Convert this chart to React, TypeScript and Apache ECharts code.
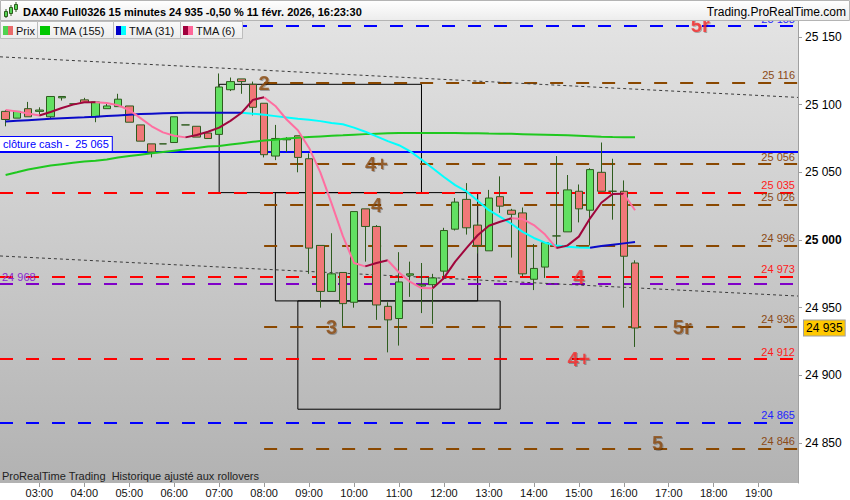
import React, { useEffect, useRef } from "react";
import * as echarts from "echarts";

const FONT = "'Liberation Sans', Arial, Helvetica, sans-serif";

// ---------- data ----------
const TIMES = [
  "02:15", "02:30", "02:45", "03:00", "03:15", "03:30", "03:45", "04:00", "04:15", "04:30",
  "04:45", "05:00", "05:15", "05:30", "05:45", "06:00", "06:15", "06:30", "06:45", "07:00",
  "07:15", "07:30", "07:45", "08:00", "08:15", "08:30", "08:45", "09:00", "09:15", "09:30",
  "09:45", "10:00", "10:15", "10:30", "10:45", "11:00", "11:15", "11:30", "11:45", "12:00",
  "12:15", "12:30", "12:45", "13:00", "13:15", "13:30", "13:45", "14:00", "14:15", "14:30",
  "14:45", "15:00", "15:15", "15:30", "15:45", "16:00", "16:15",
];
const OPEN = [
  25095, 25090, 25097, 25095, 25091, 25105, 25100.5, 25103.5, 25091, 25097,
  25098.5, 25099, 25085, 25071, 25071, 25072, 25085, 25084, 25079, 25078,
  25111, 25119, 25115, 25101, 25062, 25074, 25077, 25060, 24996, 24962,
  24976, 24954, 25023, 25010, 24951, 24942, 24974, 24966, 24967, 24977,
  25008, 25030, 25011, 24992, 25032, 25022, 25020, 24971, 24980, 25003,
  25006, 25036, 25022, 25050, 25036, 25036, 24983,
];
const CLOSE = [
  25089, 25095, 25091, 25096, 25106, 25106, 25100.5, 25101.5, 25102, 25099,
  25104, 25087, 25073, 25065, 25071, 25091, 25085, 25076, 25075, 25113,
  25117, 25117, 25098, 25063, 25075, 25075, 25061, 24994, 24962, 24975,
  24953, 25021, 25010, 24952, 24941, 24969, 24975, 24967, 24972, 25007,
  25028, 25009, 24996, 25031, 25025, 25019, 24975, 24979, 24998, 25003,
  25037, 25023, 25052, 25036, 25036, 24988, 24935,
];
const LOW = [
  25084, 25090, 25091, 25093, 25090, 25103, 25100.5, 25101.5, 25087, 25097,
  25098.5, 25087, 25073, 25061, 25071, 25072, 25085, 25076, 25075, 25078,
  25110, 25108, 25092, 25061, 25059, 25065, 25050, 24975, 24950, 24962,
  24936, 24950, 24984, 24941, 24917, 24922, 24958, 24946, 24938, 24971,
  25007, 25004, 24990, 24992, 25020, 24987, 24973, 24963, 24972, 24995,
  25006, 25013, 24996, 25036, 25015, 24950, 24921,
];
const HIGH = [
  25096, 25095, 25102, 25098, 25106, 25106, 25100.5, 25105, 25102, 25101,
  25108, 25099, 25085, 25071, 25071, 25091, 25085, 25084, 25079, 25123,
  25120, 25119, 25117, 25101, 25085, 25076, 25077, 25064, 24996, 25005,
  24976, 25021, 25023, 25011, 24954, 24991, 24984, 24983, 24975, 25009,
  25031, 25042, 25013, 25037, 25047, 25023, 25024, 24997, 24998, 25062,
  25048, 25041, 25053, 25072, 25060, 25044, 24985,
];
const TMA155 = [
  25048, 25050, 25052, 25053.5, 25055, 25056, 25057, 25058, 25058.5, 25059.5,
  25061, 25062, 25063, 25064, 25065, 25066, 25067, 25068, 25069, 25069.5,
  25070.5, 25071.5, 25072.5, 25073.5, 25074, 25075, 25075.5, 25076, 25076.5, 25077,
  25077.3, 25077.8, 25078.2, 25078.5, 25078.8, 25079, 25079, 25079, 25079, 25079,
  25079, 25078.8, 25078.8, 25078.6, 25078.5, 25078.4, 25078.2, 25078, 25077.8, 25077.6,
  25077.3, 25077, 25076.7, 25076.3, 25076, 25075.9, 25075.8,
];
const TMA31 = [
  25087.5, 25088, 25088.5, 25089, 25089.5, 25090, 25090.3, 25090.6, 25091, 25091.5,
  25092, 25092.5, 25093, 25093.3, 25093.6, 25093.8, 25094, 25094, 25094, 25094,
  25094, 25094, 25093.3, 25092.5, 25091.5, 25090.5, 25089.5, 25088.8, 25087.8, 25086.5,
  25085.5, 25083, 25080, 25076.5, 25073, 25070, 25065.5, 25059.5, 25053, 25046.5,
  25040.5, 25036, 25029, 25022, 25017, 25012, 25006, 25001.5, 24998, 24996,
  24995, 24994.5, 24994.3, 24995.5, 24996.5, 24997.5, 24998.5,
];
const TMA6 = [
  25096, 25095, 25093.5, 25092, 25094.5, 25097.5, 25100, 25101.7, 25101.8, 25101.2,
  25099.5, 25096, 25090, 25084, 25079.5, 25077, 25075.8, 25077.5, 25080, 25083,
  25088, 25094, 25103.5, 25105.5, 25099, 25089, 25081, 25068, 25050, 25027,
  25003, 24983, 24980.5, 24983, 24985, 24976, 24969, 24964.5, 24964.3, 24972,
  24984, 24994, 25003.5, 25010.5, 25013.5, 25016, 25015.5, 25011, 25004, 24994,
  24996, 25002.5, 25016, 25027.5, 25034, 25034.2, 25022,
];

const HOUR_LABELS = [
  "03:00", "04:00", "05:00", "06:00", "07:00", "08:00", "09:00", "10:00", "11:00",
  "12:00", "13:00", "14:00", "15:00", "16:00", "17:00", "18:00", "19:00",
];
const PRICE_TICKS = [24850, 24900, 24950, 25000, 25050, 25100, 25150];

const LAST_PRICE = 24935;
const CASH_CLOSE_LABEL = "clôture cash - ";

const LEVEL_PRICE = [25158, 25116, 25065, 25056, 25035, 25026, 24996, 24973, 24968, 24936, 24912, 24865, 24846];
const LEVEL_KIND = ["blue", "brown", "cash", "brown", "red", "brown", "brown", "red", "purple", "brown", "red", "blue", "brown"];
const LEVEL_START = ["", "08:00", "", "08:00", "", "08:00", "08:00", "", "", "08:00", "", "", "08:00"];

const TREND_START = [25135.3, 24988.2];
const TREND_END = [25105.3, 24958.6];

const BOX_FROM = ["07:00", "08:15", "08:45"];
const BOX_TO = ["11:30", "12:45", "13:15"];
const BOX_TOP = [25115, 25035, 24955];
const BOX_BOTTOM = [25035, 24955, 24875];

const ANNOT_TEXT = ["2", "4+", "4", "3", "5r", "5", "4", "4+", "5r"];
const ANNOT_TIME = ["08:00", "10:30", "10:30", "09:30", "17:18", "16:45", "15:00", "15:00", "17:42"];
const ANNOT_PRICE = [25116, 25056, 25026, 24936, 24936, 24850, 24973, 24912, 25159];
const ANNOT_KIND = ["brown", "brown", "brown", "brown", "brown", "brown", "red", "red", "red"];

// ---------- helpers ----------
const toMin = (t: string) => {
  const [h, m] = t.split(":").map(Number);
  return h * 60 + m;
};
const fmtTime = (v: number) => {
  const h = Math.floor(v / 60);
  const m = Math.round(v - h * 60);
  return String(h).padStart(2, "0") + ":" + String(m).padStart(2, "0");
};
const fmtPrice = (v: number) => {
  const s = String(Math.round(v));
  return s.slice(0, s.length - 3) + " " + s.slice(-3);
};

const X_MIN = toMin("02:15") - 7.5;
const X_MAX = toMin("19:45") + 7.5;
const Y_MIN = 24820.5;
const Y_MAX = 25162.5;

const COLORS: Record<string, { line: string; text: string }> = {
  brown: { line: "#8a4800", text: "#8b4a16" },
  red: { line: "#ff0000", text: "#ff1a1a" },
  blue: { line: "#0000ff", text: "#1f1fff" },
  purple: { line: "#8000c8", text: "#8a2ad0" },
  cash: { line: "#0000ff", text: "#0000ff" },
};

function dirRuns(values: number[]) {
  const out: { up: boolean; from: number; to: number }[] = [];
  for (let i = 0; i < values.length - 1; i++) {
    const up = values[i + 1] >= values[i];
    const last = out[out.length - 1];
    if (last && last.up === up) last.to = i + 1;
    else out.push({ up, from: i, to: i + 1 });
  }
  return out;
}

function coloredLine(name: string, values: number[], upColor: string, downColor: string) {
  return dirRuns(values).map((r, k) => ({
    name: name + "_" + k,
    type: "line",
    data: TIMES.slice(r.from, r.to + 1).map((t, j) => [toMin(t), values[r.from + j]]),
    showSymbol: false,
    symbol: "none",
    lineStyle: { width: 2, color: r.up ? upColor : downColor },
    z: 4,
    silent: true,
  }));
}

function buildOption() {
  const candles = TIMES.map((t, i) => [toMin(t), OPEN[i], CLOSE[i], LOW[i], HIGH[i]]);

  const levelLines: any[] = LEVEL_PRICE.map((p, i) => {
    const kind = LEVEL_KIND[i];
    const c = COLORS[kind];
    const from = LEVEL_START[i] ? toMin(LEVEL_START[i]) : X_MIN;
    let label: any;
    if (kind === "cash") {
      label = {
        show: true,
        position: "insideStartTop",
        distance: [0, 1],
        formatter: CASH_CLOSE_LABEL + " " + fmtPrice(p),
        color: "#0000ff",
        fontSize: 11,
        fontFamily: FONT,
        backgroundColor: "#ffffff",
        borderColor: "#0000ff",
        borderWidth: 1,
        padding: [2, 3, 1, 3],
      };
    } else if (kind === "purple") {
      label = {
        show: true,
        position: "insideStartTop",
        distance: [2, 1],
        formatter: fmtPrice(p),
        color: c.text,
        fontSize: 11,
        fontFamily: FONT,
      };
    } else {
      label = {
        show: true,
        position: "insideEndTop",
        distance: [3, 2],
        formatter: fmtPrice(p),
        color: c.text,
        fontSize: 11,
        fontFamily: FONT,
      };
    }
    return [
      {
        coord: [from, p],
        lineStyle: {
          color: c.line,
          width: 2,
          type: kind === "cash" ? "solid" : [13, 13],
        },
        label,
      },
      { coord: [X_MAX, p] },
    ];
  });

  const trendLines: any[] = TREND_START.map((s, i) => [
    {
      coord: [X_MIN, s],
      lineStyle: { color: "#3c3c3c", width: 1, type: [3, 3] },
      label: { show: false },
    },
    { coord: [X_MAX, TREND_END[i]] },
  ]);

  const boxes = BOX_FROM.map((f, i) => [
    { coord: [toMin(f), BOX_TOP[i]] },
    { coord: [toMin(BOX_TO[i]), BOX_BOTTOM[i]] },
  ]);

  const annotData = ANNOT_TEXT.map((t, i) => ({
    name: t,
    value: [toMin(ANNOT_TIME[i]), ANNOT_PRICE[i]],
    label: { color: ANNOT_KIND[i] === "red" ? "#f52a2a" : "#8b4a12" },
  }));

  // header graphics
  const legendItems = [
    { x: 0, w: 37, text: "Prix", icons: ["#4fd24f", "#e96a6a"] },
    { x: 37, w: 76, text: "TMA (155)", icons: ["#00c800"] },
    { x: 113, w: 67, text: "TMA (31)", icons: ["#0000c8", "#00ffff"] },
    { x: 180, w: 62, text: "TMA (6)", icons: ["#a0003c", "#ff6699"] },
  ];
  const graphics: any[] = [
    {
      type: "rect",
      z: 100,
      shape: { x: 0.5, y: 0.5, width: 849, height: 20 },
      style: {
        fill: new echarts.graphic.LinearGradient(0, 0, 0, 1, [
          { offset: 0, color: "#ffffff" },
          { offset: 1, color: "#ececec" },
        ]),
        stroke: "#b4b4b4",
        lineWidth: 1,
      },
      silent: true,
    },
    // small candle icon
    { type: "line", z: 101, shape: { x1: 6, y1: 9, x2: 6, y2: 18 }, style: { stroke: "#2e5c1e", lineWidth: 1 } },
    { type: "rect", z: 102, shape: { x: 4.5, y: 11.5, width: 3, height: 5 }, style: { fill: "#55d455", stroke: "#2e5c1e", lineWidth: 1 } },
    { type: "line", z: 101, shape: { x1: 11, y1: 5, x2: 11, y2: 16 }, style: { stroke: "#2e5c1e", lineWidth: 1 } },
    { type: "rect", z: 102, shape: { x: 9.5, y: 7.5, width: 3, height: 6 }, style: { fill: "#55d455", stroke: "#2e5c1e", lineWidth: 1 } },
    { type: "line", z: 101, shape: { x1: 16, y1: 2, x2: 16, y2: 12 }, style: { stroke: "#2e5c1e", lineWidth: 1 } },
    { type: "rect", z: 102, shape: { x: 14.5, y: 4.5, width: 3, height: 5 }, style: { fill: "#55d455", stroke: "#2e5c1e", lineWidth: 1 } },
    {
      type: "text",
      z: 101,
      style: {
        text: "DAX40 Full0326 15 minutes 24 935 -0,50 % 11 févr. 2026, 16:23:30",
        x: 23,
        y: 12,
        fill: "#000",
        font: "bold 11px " + FONT,
        verticalAlign: "middle",
      },
      silent: true,
    },
    {
      type: "text",
      z: 101,
      style: {
        text: "Trading.ProRealTime.com",
        x: 846,
        y: 12,
        fill: "#000",
        font: "12px " + FONT,
        align: "right",
        verticalAlign: "middle",
      },
      silent: true,
    },
    {
      type: "text",
      z: 100,
      style: {
        text: "ProRealTime Trading  Historique ajusté aux rollovers",
        x: 2,
        y: 476,
        fill: "#222",
        font: "11px " + FONT,
        verticalAlign: "middle",
      },
      silent: true,
    },
  ];
  legendItems.forEach((it) => {
    graphics.push({
      type: "rect",
      z: 100,
      shape: { x: it.x + 0.5, y: 21.5, width: it.w, height: 17 },
      style: {
        fill: new echarts.graphic.LinearGradient(0, 0, 0, 1, [
          { offset: 0, color: "#fafafa" },
          { offset: 1, color: "#ececec" },
        ]),
        stroke: "#bdbdbd",
        lineWidth: 1,
      },
      silent: true,
    });
    const iconW = 10;
    const part = iconW / it.icons.length;
    it.icons.forEach((col, k) => {
      graphics.push({
        type: "rect",
        z: 101,
        shape: { x: it.x + 3 + k * part, y: 26, width: part, height: 9 },
        style: { fill: col },
        silent: true,
      });
    });
    graphics.push({
      type: "text",
      z: 101,
      style: {
        text: it.text,
        x: it.x + 16,
        y: 30.5,
        fill: "#111",
        font: "11px " + FONT,
        verticalAlign: "middle",
      },
      silent: true,
    });
  });

  const series: any[] = [
    {
      name: "Prix",
      type: "candlestick",
      data: candles,
      barWidth: 8,
      itemStyle: {
        color: "#62e062",
        color0: "#f07878",
        borderColor: "#2e5c1e",
        borderColor0: "#2e5c1e",
        borderColorDoji: "#2e5c1e",
        borderWidth: 1,
      },
      z: 3,
      silent: true,
      markLine: {
        silent: true,
        symbol: ["none", "none"],
        data: [
          {
            yAxis: LAST_PRICE,
            lineStyle: { color: "rgba(0,0,0,0)", width: 1, type: "solid" },
            label: {
              show: true,
              position: "end",
              distance: 6,
              opacity: 1,
              formatter: fmtPrice(LAST_PRICE),
              color: "#000",
              fontSize: 12,
              fontFamily: FONT,
              backgroundColor: "#ffc800",
              borderColor: "#a0a0a0",
              borderWidth: 1,
              padding: [2, 2, 1, 2],
            },
          },
        ],
      },
    },
    {
      name: "TMA (155)",
      type: "line",
      data: TIMES.map((t, i) => [toMin(t), TMA155[i]]),
      showSymbol: false,
      symbol: "none",
      lineStyle: { width: 2, color: "#1fc81f" },
      z: 4,
      silent: true,
    },
    ...coloredLine("TMA (31)", TMA31, "#0a0ac8", "#00ffff"),
    ...coloredLine("TMA (6)", TMA6, "#a0063c", "#ff6ea0"),
    {
      name: "annotations",
      type: "scatter",
      data: annotData,
      symbolSize: 1,
      itemStyle: { color: "rgba(0,0,0,0)" },
      label: {
        show: true,
        position: "inside",
        formatter: "{b}",
        fontSize: 20,
        fontWeight: "bold",
        fontFamily: FONT,
        textShadowColor: "rgba(0,0,0,0.35)",
        textShadowBlur: 1,
        textShadowOffsetX: 1,
        textShadowOffsetY: 1,
      },
      z: 10,
      silent: true,
      markLine: {
        silent: true,
        symbol: ["none", "none"],
        z: 1,
        data: [...levelLines, ...trendLines],
      },
      markArea: {
        silent: true,
        itemStyle: { color: "rgba(0,0,0,0)", borderColor: "#000", borderWidth: 1 },
        data: boxes,
      },
    },
  ];

  return {
    animation: false,
    textStyle: { fontFamily: FONT },
    grid: {
      left: 0,
      right: 52,
      top: 20,
      bottom: 17,
      show: true,
      borderWidth: 0,
      backgroundColor: new echarts.graphic.LinearGradient(0, 0, 0, 1, [
        { offset: 0, color: "#e3e3e3" },
        { offset: 1, color: "#b2b2b2" },
      ]),
    },
    xAxis: {
      type: "value",
      min: X_MIN,
      max: X_MAX,
      splitLine: { show: false },
      axisLine: { show: false },
      axisTick: {
        show: true,
        length: 4,
        customValues: HOUR_LABELS.map(toMin),
        lineStyle: { color: "#999" },
      },
      axisLabel: {
        customValues: HOUR_LABELS.map(toMin),
        formatter: (v: number) => fmtTime(v),
        margin: 4,
        fontSize: 11,
        color: "#111",
        fontFamily: FONT,
      },
    },
    yAxis: {
      type: "value",
      position: "right",
      min: Y_MIN,
      max: Y_MAX,
      splitLine: { show: false },
      axisLine: { show: true, onZero: false, lineStyle: { color: "#a0a0a0" } },
      axisTick: {
        show: true,
        length: 4,
        customValues: PRICE_TICKS,
        lineStyle: { color: "#a0a0a0" },
      },
      axisLabel: {
        customValues: PRICE_TICKS,
        margin: 7,
        color: "#000",
        fontSize: 12,
        fontFamily: FONT,
        formatter: (v: number) => (v === 25000 ? "{b|" + fmtPrice(v) + "}" : fmtPrice(v)),
        rich: { b: { fontWeight: "bold", fontSize: 12, color: "#000", fontFamily: FONT } },
      },
    },
    graphic: graphics,
    series,
  };
}

export default function App() {
  const ref = useRef<HTMLDivElement>(null);
  useEffect(() => {
    if (!ref.current) return;
    const chart = echarts.init(ref.current, null, { renderer: "svg" });
    chart.setOption(buildOption() as any);
    return () => chart.dispose();
  }, []);
  return (
    <div
      ref={ref}
      style={{ position: "fixed", left: 0, top: 0, width: 850, height: 500, background: "#ffffff" }}
    />
  );
}
